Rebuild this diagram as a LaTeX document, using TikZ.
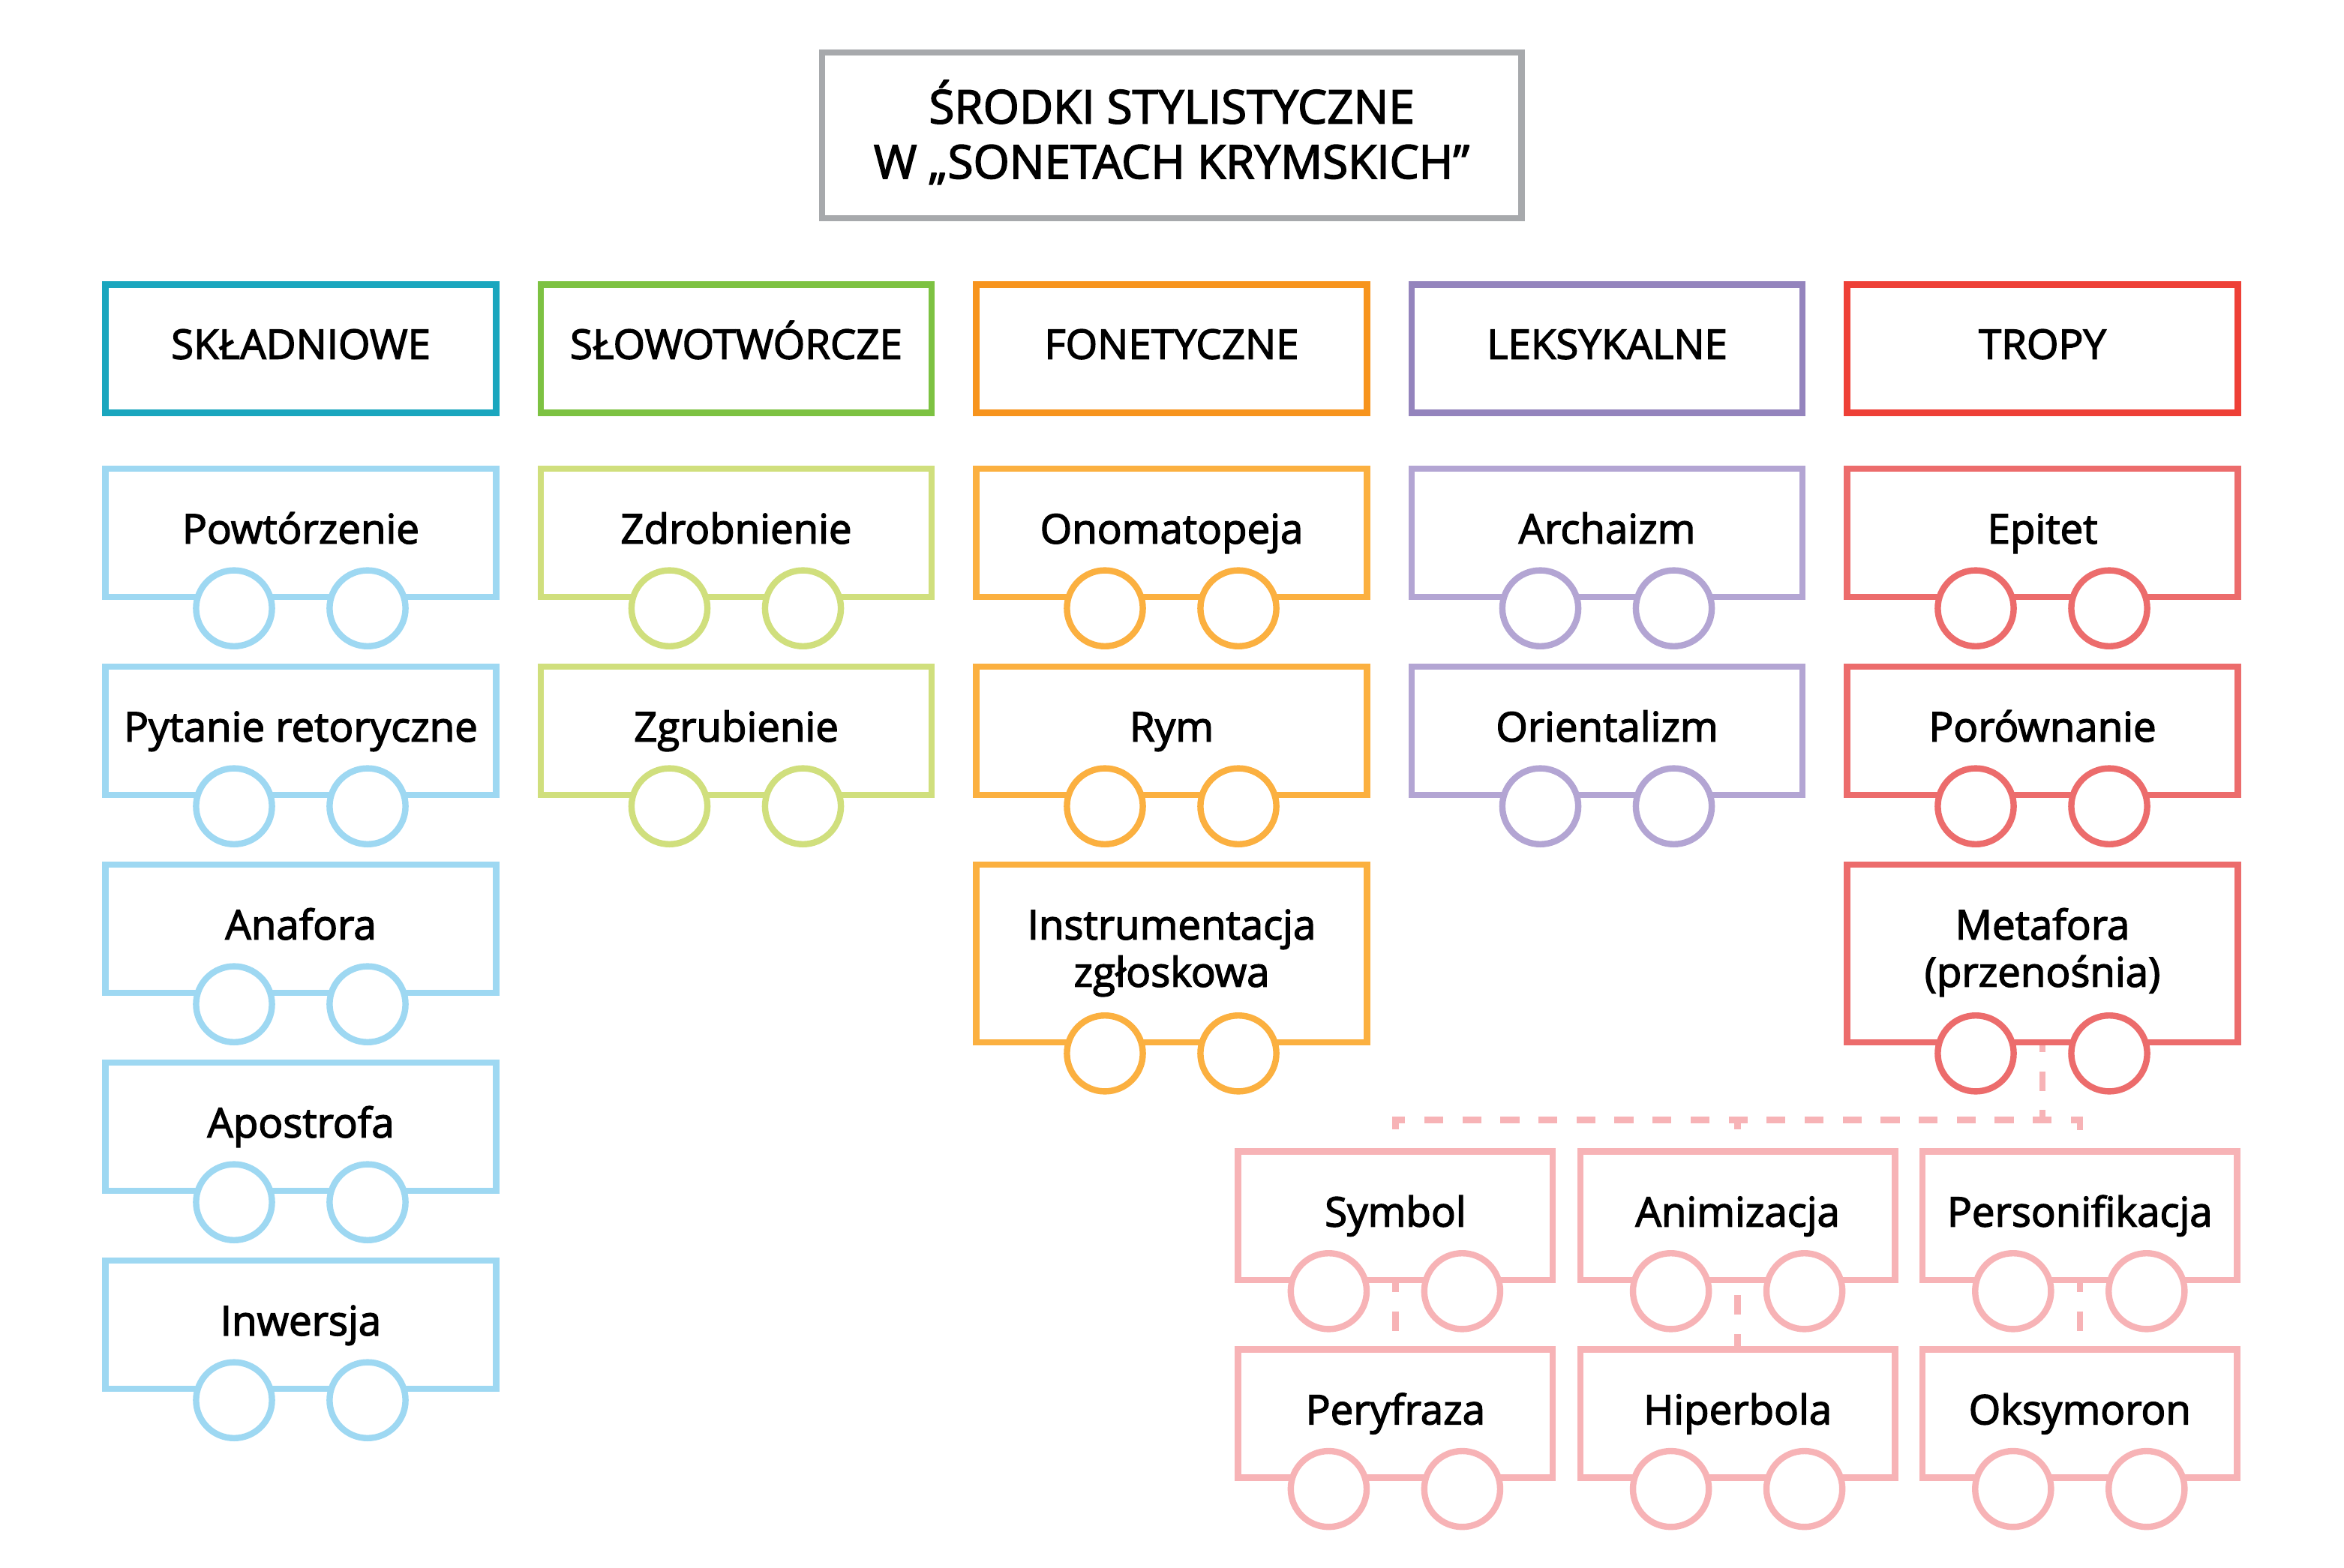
\documentclass[tikz,border=0pt]{standalone}
\usepackage{fontspec}
\setmainfont{Open Sans}[FakeBold=2.5]
\usetikzlibrary{calc,backgrounds}
\definecolor{cgray}{HTML}{A7A9AC}
\definecolor{cteal}{HTML}{1AA6BE}
\definecolor{cgreen}{HTML}{7DC242}
\definecolor{corange}{HTML}{F7941D}
\definecolor{cpurple}{HTML}{9484BD}
\definecolor{cred}{HTML}{EE4037}
\definecolor{lblue}{HTML}{9ED8F2}
\definecolor{lgreen}{HTML}{D0DF7D}
\definecolor{lorange}{HTML}{FBB040}
\definecolor{lpurple}{HTML}{B3A5D3}
\definecolor{lred}{HTML}{EC6C6C}
\definecolor{cpink}{HTML}{F7B3B6}
\tikzset{
  boxst/.style={draw, line width=4.2pt, inner sep=0pt, outer sep=0pt, anchor=north},
  wheel/.style={circle, draw, line width=4.2pt, fill=white, inner sep=0pt, outer sep=0pt, minimum size=50.6pt},
  lbl/.style={anchor=base, inner sep=0pt, outer sep=0pt, align=center, font=\fontsize{27.3pt}{31.5pt}\selectfont},
  dlink/.style={draw=cpink, line width=4.2pt, line cap=butt},
}
% #8 = offset of the last baseline below the box top
\newcommand\mkbox[8]{%
  \node[boxst, draw=#6, minimum width=#4, minimum height=#5] (#1) at (#2,#3) {};
  \node[lbl] (#1-t) at ($(#1.north)+(0,#8)$) {#7};
}
\newcommand\mkwheels[2]{%
  \node[wheel, draw=#2] (#1-l) at ($(#1.south)+(-44.5,7.5)$) {};
  \node[wheel, draw=#2] (#1-r) at ($(#1.south)+(44.5,7.5)$) {};
}
\begin{document}
\begin{tikzpicture}[x=1pt,y=-1pt]
\useasboundingbox (0,0) rectangle (1562.5,1045.5);
% title
\node[boxst, draw=cgray, minimum width=466.3pt, minimum height=110.5pt] (title) at (781,35) {};
\node[lbl, font=\fontsize{31pt}{36.7pt}\selectfont] (title-t) at ($(title.north)+(0,84)$) {ŚRODKI STYLISTYCZNE\\W „SONETACH KRYMSKICH”};
% categories
\mkbox{k1}{200.5}{189.7}{260.5pt}{85.6pt}{cteal}{SKŁADNIOWE}{49.6}
\mkbox{k2}{490.75}{189.7}{260.5pt}{85.6pt}{cgreen}{SŁOWOTWÓRCZE}{49.6}
\mkbox{k3}{781}{189.7}{260.5pt}{85.6pt}{corange}{FONETYCZNE}{49.6}
\mkbox{k4}{1071.25}{189.7}{260.5pt}{85.6pt}{cpurple}{LEKSYKALNE}{49.6}
\mkbox{k5}{1361.5}{189.7}{260.5pt}{85.6pt}{cred}{TROPY}{49.6}
% column 1
\mkbox{a1}{200.5}{312.6}{260.5pt}{85.5pt}{lblue}{Powtórzenie}{49.8}
\mkbox{a2}{200.5}{444.6}{260.5pt}{85.5pt}{lblue}{Pytanie retoryczne}{49.8}
\mkbox{a3}{200.5}{576.6}{260.5pt}{85.5pt}{lblue}{Anafora}{49.8}
\mkbox{a4}{200.5}{708.6}{260.5pt}{85.5pt}{lblue}{Apostrofa}{49.8}
\mkbox{a5}{200.5}{840.6}{260.5pt}{85.5pt}{lblue}{Inwersja}{49.8}
% column 2
\mkbox{b1}{490.75}{312.6}{260.5pt}{85.5pt}{lgreen}{Zdrobnienie}{49.8}
\mkbox{b2}{490.75}{444.6}{260.5pt}{85.5pt}{lgreen}{Zgrubienie}{49.8}
% column 3
\mkbox{c1}{781}{312.6}{260.5pt}{85.5pt}{lorange}{Onomatopeja}{49.8}
\mkbox{c2}{781}{444.6}{260.5pt}{85.5pt}{lorange}{Rym}{49.8}
\mkbox{c3}{781}{576.6}{260.5pt}{118.3pt}{lorange}{Instrumentacja\\zgłoskowa}{81.3}
% column 4
\mkbox{d1}{1071.25}{312.6}{260.5pt}{85.5pt}{lpurple}{Archaizm}{49.8}
\mkbox{d2}{1071.25}{444.6}{260.5pt}{85.5pt}{lpurple}{Orientalizm}{49.8}
% column 5
\mkbox{e1}{1361.5}{312.6}{260.5pt}{85.5pt}{lred}{Epitet}{49.8}
\mkbox{e2}{1361.5}{444.6}{260.5pt}{85.5pt}{lred}{Porównanie}{49.8}
\mkbox{e3}{1361.5}{576.6}{260.5pt}{118.3pt}{lred}{Metafora\\(przenośnia)}{81.3}
% sub-types
\mkbox{s1}{930.2}{767.8}{209.8pt}{85.6pt}{cpink}{Symbol}{50}
\mkbox{s2}{1158.3}{767.8}{209.8pt}{85.6pt}{cpink}{Animizacja}{50}
\mkbox{s3}{1386.4}{767.8}{209.8pt}{85.6pt}{cpink}{Personifikacja}{50}
\mkbox{s4}{930.2}{899.7}{209.8pt}{85.6pt}{cpink}{Peryfraza}{50}
\mkbox{s5}{1158.3}{899.7}{209.8pt}{85.6pt}{cpink}{Hiperbola}{50}
\mkbox{s6}{1386.4}{899.7}{209.8pt}{85.6pt}{cpink}{Oksymoron}{50}
% bus coordinates
\coordinate (busy) at (0,746.7);
\coordinate (busL) at (s1.north |- busy);
\coordinate (busM) at (s2.north |- busy);
\coordinate (busR) at (s3.north |- busy);
\coordinate (busT) at (e3.south |- busy);
% dashed connectors (behind the boxes)
\begin{scope}[on background layer]
\draw[dlink, dash pattern=on 13pt off 12.8pt, dash phase=6.3pt] (e3.south) -- (busT);
\draw[dlink, dash pattern=on 12.6pt off 12.75pt, dash phase=10.35pt] (s1.north) -- (busL) -- (busR) -- (s3.north);
\draw[dlink, dash pattern=on 12.6pt off 12.75pt, dash phase=6.5pt] (busM) -- (s2.north);
\draw[dlink, dash pattern=on 13pt off 13pt, dash phase=5.1pt] (s1.south) -- (s4.north);
\draw[dlink, dash pattern=on 13pt off 13pt, dash phase=15.9pt] (s2.south) -- (s5.north);
\draw[dlink, dash pattern=on 13pt off 13pt, dash phase=5.1pt] (s3.south) -- (s6.north);
\end{scope}
% wheels
\mkwheels{a1}{lblue}\mkwheels{a2}{lblue}\mkwheels{a3}{lblue}\mkwheels{a4}{lblue}\mkwheels{a5}{lblue}
\mkwheels{b1}{lgreen}\mkwheels{b2}{lgreen}
\mkwheels{c1}{lorange}\mkwheels{c2}{lorange}\mkwheels{c3}{lorange}
\mkwheels{d1}{lpurple}\mkwheels{d2}{lpurple}
\mkwheels{e1}{lred}\mkwheels{e2}{lred}\mkwheels{e3}{lred}
\mkwheels{s1}{cpink}\mkwheels{s2}{cpink}\mkwheels{s3}{cpink}
\mkwheels{s4}{cpink}\mkwheels{s5}{cpink}\mkwheels{s6}{cpink}
\end{tikzpicture}
\end{document}
